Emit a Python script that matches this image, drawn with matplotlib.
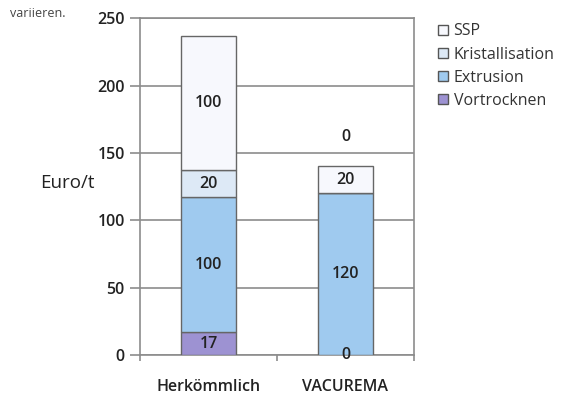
import matplotlib
matplotlib.use("Agg")
import matplotlib.pyplot as plt
from matplotlib.patches import Patch
import numpy as np

plt.rcParams['font.family'] = ['Open Sans', 'DejaVu Sans']

# daten
kategorien = ["Herkömmlich", "VACUREMA"]
schritte = ["Vortrocknen", "Extrusion", "Kristallisation", "SSP"]
vortrocknen = [17, 0]
extrusion = [100, 120]
kristallisation = [20, 0]
ssp = [100, 20]
farben = ["#9d92d2", "#9fcaef", "#dde9f6", "#f7f8fd"]
werte = [vortrocknen, extrusion, kristallisation, ssp]

fig = plt.figure(figsize=(5.7, 4.03), dpi=100)
ax = fig.add_axes([0.2456, 0.119, 0.4807, 0.836])

x = np.arange(len(kategorien)) + 0.5
unten = np.zeros(len(kategorien))
for name, w, f in zip(schritte, werte, farben):
    w = np.array(w, dtype=float)
    ax.bar(x, w, 0.4, bottom=unten, color=f, edgecolor="#666666",
           linewidth=1.0, zorder=3, label=name)
    for i in range(len(x)):
        yy = unten[i] + w[i] / 2
        if w[i] == 0 and unten[i] > 0:
            # leeres segment: beschriftung ueber dem balken
            yy = unten[i] + 42
        ax.text(x[i], yy, str(int(w[i])), ha="center", va="center",
                fontsize=11.5, fontweight="semibold", color="#222222", zorder=4)
    unten = unten + w

ax.set_xlim(0, 2)
ax.set_ylim(0, 250)
ax.set_yticks(np.arange(0, 251, 50))
ax.yaxis.grid(True, color="#8c8c8c", linewidth=1.2, zorder=0)
ax.set_axisbelow(True)
for s in ax.spines.values():
    s.set_color("#8c8c8c")
    s.set_linewidth(1.2)
ax.tick_params(axis="y", length=7, width=1.2, color="#8c8c8c",
               labelsize=11.5, pad=4, labelcolor="#222222")
ax.set_xticks([0, 1, 2])
ax.set_xticklabels([])
ax.tick_params(axis="x", length=4, width=1.2, color="#8c8c8c")
ax.set_xticks(x, minor=True)
ax.set_xticklabels(kategorien, minor=True)
ax.tick_params(axis="x", which="minor", length=0, pad=17, labelsize=11.5,
               labelcolor="#222222")
for t in ax.get_yticklabels() + ax.get_xticklabels(minor=True):
    t.set_fontweight("semibold")

fig.text(0.07, 0.545, "Euro/t", fontsize=13.5, color="#222222",
         ha="left", va="center")
fig.text(0.018, 0.982, "variieren.", fontsize=9, color="#444444",
         ha="left", va="top")

griffe = [Patch(facecolor=farben[i], edgecolor="#555555", label=schritte[i])
          for i in range(3, -1, -1)]
fig.legend(handles=griffe, loc="upper left", bbox_to_anchor=(0.758, 0.958),
           frameon=False, fontsize=11.5, handlelength=0.6, handleheight=0.6,
           handletextpad=0.35, labelspacing=0.45, borderaxespad=0,
           labelcolor="#333333")

fig.savefig("out.png", dpi=100)
